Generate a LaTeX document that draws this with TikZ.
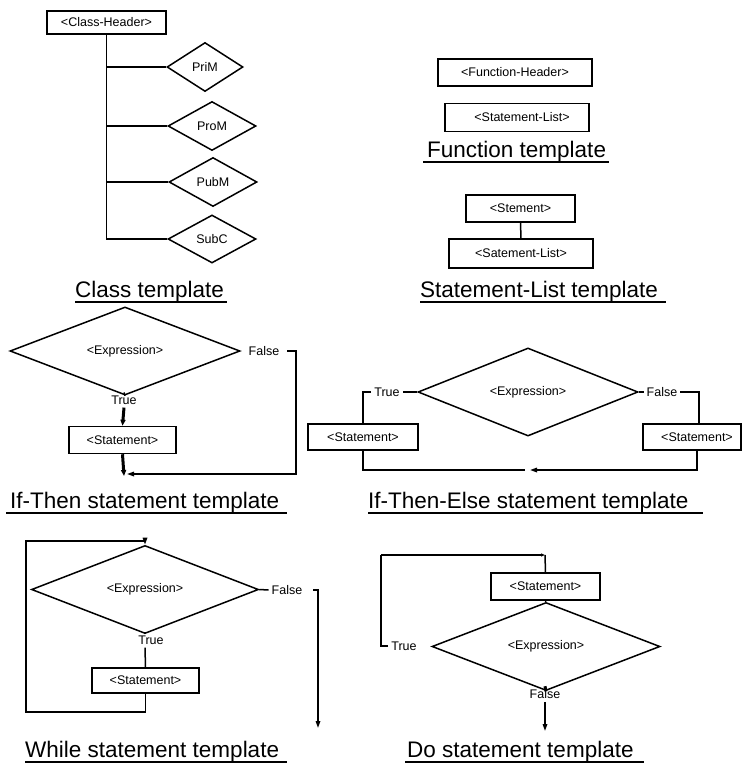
\documentclass[tikz,border=0pt]{standalone}
\usepackage{fontspec}
\setmainfont{Liberation Sans}
\usetikzlibrary{shapes.geometric,arrows.meta,calc}

\tikzset{
  txt/.style={font=\fontsize{12.5}{14}\selectfont},
  box/.style={txt, draw, line width=1.5pt, rectangle, inner sep=0pt},
  dia/.style={txt, draw, line width=1.5pt, diamond, inner sep=0pt},
  lbl/.style={txt, inner sep=3pt},
  ttl/.style={font=\fontsize{22.5}{26}\selectfont, inner sep=0pt, anchor=base west},
  wire/.style={line width=1.5pt},
  arr/.style={wire, -{Triangle[length=7pt,width=4.5pt]}},
  heavy/.style={line width=3pt, -{Triangle[length=6pt,width=5pt]}},
  uline/.style={line width=1.6pt},
}

\begin{document}
\begin{tikzpicture}[x=1pt,y=-1pt]
\useasboundingbox (0,0) rectangle (744,766);

% ---------------- Class template ----------------
\node[box, minimum width=119, minimum height=23] (ch) at (106.5,22.5) {<Class-Header>\hspace{10pt}};
\node[dia, minimum width=76, minimum height=49] (prim) at (205,67) {PriM};
\node[dia, minimum width=88, minimum height=49] (prom) at (212,126) {ProM};
\node[dia, minimum width=88, minimum height=49] (pubm) at (213,182) {PubM};
\node[dia, minimum width=88, minimum height=48] (subc) at (212,239) {SubC};
\draw[wire] (ch.south) -- (ch.south |- subc.west) -- (subc.west);
\draw[wire] (ch.south |- prim.west) -- (prim.west);
\draw[wire] (ch.south |- prom.west) -- (prom.west);
\draw[wire] (ch.south |- pubm.west) -- (pubm.west);
\node[ttl] (tclass) at (75,297) {Class template};
\draw[uline] ($(tclass.base west)+(0,5)$) -- ($(tclass.base east)+(3,5)$);

% ---------------- Function template ----------------
\node[box, minimum width=154, minimum height=27] (fh) at (515,72.5) {<Function-Header>};
\node[box, minimum width=144, minimum height=28] (fsl) at (517,117.5) {\hspace{10pt}<Statement-List>};
\node[ttl] (tfunc) at (427,157) {Function template};
\draw[uline] ($(tfunc.base west)+(-4,5)$) -- ($(tfunc.base east)+(3,5)$);

% ---------------- Statement-List template ----------------
\node[box, minimum width=109, minimum height=27] (stm) at (520.5,208.5) {<Stement>};
\node[box, minimum width=144, minimum height=29] (ssl) at (521,253.5) {<Satement-List>};
\draw[wire] (stm.south) -- (ssl.north);
\node[ttl] (tsl) at (420,297) {Statement-List template};
\draw[uline] ($(tsl.base west)+(0,5)$) -- ($(tsl.base east)+(8,5)$);

% ---------------- If-Then statement ----------------
\node[dia, minimum width=230, minimum height=58] (ite) at (125,351) {<Expression>};
\node[lbl] (itf) at (264,351) {False};
\node[lbl] (itt) at (124,400) {True};
\node[box, minimum width=107, minimum height=27] (its) at (122.5,440) {<Statement>};
\coordinate (itc) at (296,474);
\coordinate (itj) at (124,476);
\coordinate (itjr) at (127,474);
\draw[wire] (ite.south) -- (itt.north);
\draw[heavy] (itt.south) -- (its.north);
\draw[heavy] (its.south) -- (itj);
\draw[arr] ($(itf.east)+(5,0)$) -| (itc) -- (itjr);
\node[ttl] (tit) at (10,508) {If-Then statement template};
\draw[uline] ($(tit.base west)+(-4,5)$) -- ($(tit.base east)+(8,5)$);

% ---------------- If-Then-Else statement ----------------
\node[dia, minimum width=220, minimum height=58] (ie) at (528,392) {<Expression>};
\node[lbl] (iet) at (387,392) {True};
\node[lbl] (ief) at (662,392) {False};
\node[box, minimum width=110, minimum height=26] (iel) at (363,437) {<Statement>\hspace{4pt}};
\node[box, minimum width=98, minimum height=26] (ier) at (692,437) {\hspace{10pt}<Statement>};
\coordinate (ierin) at (699,424);
\coordinate (ierout) at (697,450);
\coordinate (iejl) at (525,470);
\coordinate (iejr) at (530,470);
\draw[wire] (ie.west) -- (iet.east);
\draw[wire] (iet.west) -| (iel.north);
\draw[wire] (ie.east) -- (ief.west);
\draw[wire] (ief.east) -| (ierin);
\draw[wire] (iel.south) |- (iejl);
\draw[arr] (ierout) |- (iejr);
\node[ttl] (tite) at (368,508) {If-Then-Else statement template};
\draw[uline] ($(tite.base west)+(0,5)$) -- ($(tite.base east)+(14,5)$);

% ---------------- While statement ----------------
\node[dia, minimum width=227, minimum height=55] (wd) at (145,589.5) {<Expression>};
\node[lbl] (wf) at (287,590) {False};
\node[lbl] (wt) at (151,640) {True};
\node[box, minimum width=107, minimum height=25] (ws) at (145.5,680.5) {<Statement>};
\coordinate (wl1) at (26,712);
\coordinate (wl2) at (26,541);
\coordinate (wx) at (318,728);
\draw[wire] (wd.south) -- (wd.south |- wt.north);
\draw[wire] (wd.south |- wt.south) -- (ws.north);
\draw[arr] (ws.south) |- (wl1) -- (wl2) -| (wd.north);
\draw[wire] (wd.east) -- (wf.west);
\draw[arr] ($(wf.east)+(8,0)$) -| (wx);
\node[ttl] (twh) at (25,757) {While statement template};
\draw[uline] ($(twh.base west)+(0,5)$) -- ($(twh.base east)+(8,5)$);

% ---------------- Do statement ----------------
\node[box, minimum width=109, minimum height=27] (ds) at (545.5,586.5) {<Statement>};
\node[dia, minimum width=228, minimum height=57] (dd) at (546,646.5) {<Expression>};
\node[lbl] (dt) at (404,646) {True};
\node[lbl] (dfl) at (545,694) {False};
\coordinate (dl) at (381,555);
\coordinate (dc) at (545,555);
\coordinate (dx) at (545,731);
\draw[wire] (dt.west) -| (dl);
\draw[wire, -{Triangle[length=4pt,width=3pt]}] (dl) -- (dc);
\draw[wire] (dc) -- (ds.north);
\draw[wire] (ds.south) -- (dd.north);
\draw[line width=3pt] (dd.south) -- (dfl.north);
\draw[arr] (dfl.south) -- (dx);
\node[ttl] (tdo) at (407,757) {Do statement template};
\draw[uline] ($(tdo.base west)+(-2,5)$) -- ($(tdo.base east)+(10,5)$);
\end{tikzpicture}
\end{document}
